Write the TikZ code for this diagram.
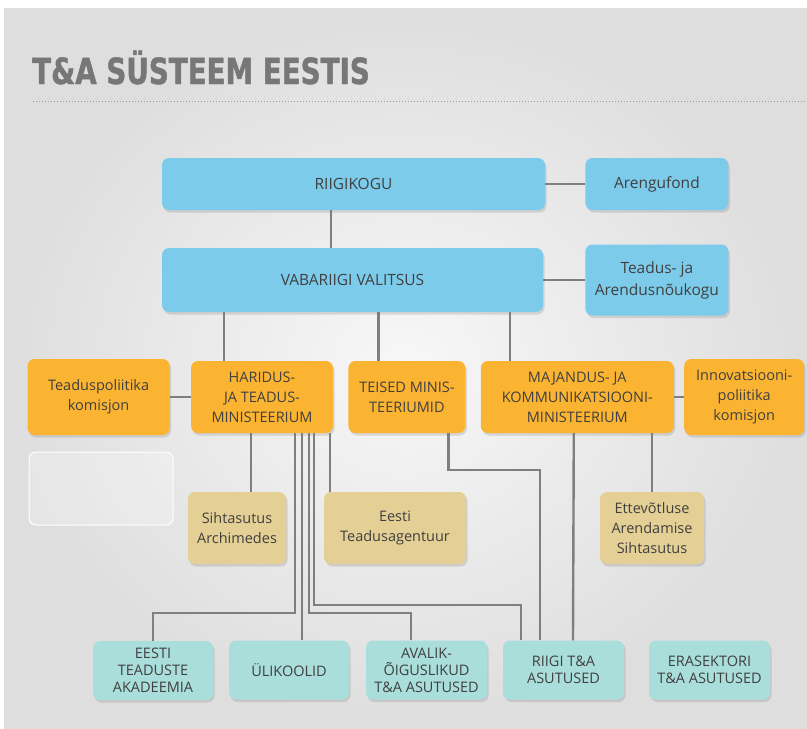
\documentclass[tikz,border=0pt]{standalone}
\usepackage{fontspec}
\setmainfont{Open Sans}
\newfontfamily\titlefont[FakeStretch=0.77, BoldFeatures={FakeBold=1.2}]{DejaVu Sans}
\usetikzlibrary{positioning, shadows}

\definecolor{boxblue}{HTML}{7DCBEB}
\definecolor{boxorange}{HTML}{FBB431}
\definecolor{boxtan}{HTML}{E4CF95}
\definecolor{boxteal}{HTML}{A9DEDA}
\definecolor{linegray}{HTML}{7F7F7F}
\definecolor{textgray}{HTML}{404040}
\definecolor{titlegray}{HTML}{777777}

\begin{document}
\begin{tikzpicture}[x=1pt, y=-1pt,
        box/.style={rounded corners=7pt, align=center, inner sep=1pt, text=textgray,
            font=\fontsize{14.5}{20}\selectfont,
            drop shadow={shadow xshift=1.5pt, shadow yshift=-2.5pt, opacity=0.25}},
        govbox/.style={box, fill=boxblue, minimum height=52pt, font=\fontsize{15.5}{22}\selectfont},
        minbox/.style={box, fill=boxorange, minimum width=142pt, minimum height=72pt},
        fundbox/.style={box, fill=boxtan, minimum height=72pt, font=\fontsize{14.5}{20}\selectfont},
        instbox/.style={box, fill=boxteal, minimum width=121pt, minimum height=59pt, font=\fontsize{14.5}{17}\selectfont},
        link/.style={-, line width=2.4pt, draw=linegray}
    ]
        \useasboundingbox (0,0) rectangle (807,729);
        \shade[inner color=black!3, outer color=black!13] (4,8) rectangle (807,728);

        % Title
        \node[anchor=base west, inner sep=0pt, text=titlegray,
            font=\titlefont\bfseries\fontsize{36}{36}\selectfont] (title) at (32,84) {T\&A SÜSTEEM EESTIS};
        \draw[dotted, draw=linegray!80, line width=1pt] (33,101) -- (807,101);

        % Parliament and government
        \node[govbox, minimum width=383pt] (riigikogu) at (353.5,184) {RIIGIKOGU};
        \node[govbox, minimum width=143pt, right=40pt of riigikogu] (arengufond) {Arengufond};
        \node[govbox, minimum width=381pt, minimum height=64pt] (valitsus) at (352.5,280) {VABARIIGI VALITSUS};
        \node[govbox, minimum width=143pt, minimum height=71pt, right=42pt of valitsus] (noukogu) {Teadus- ja\\Arendusnõukogu};

        \draw[link] (riigikogu) -- (arengufond);
        \draw[link] ([xshift=-22.5pt]riigikogu.south) -- ([xshift=-22.5pt]riigikogu.south |- valitsus.north);
        \draw[link] (valitsus.east) -- (valitsus.east -| noukogu.west);

        % Ministries
        \node[minbox] (htm) at (262,397) {HARIDUS-\\JA TEADUS-\\MINISTEERIUM};
        \node[minbox, minimum height=76pt, left=21pt of htm] (tpk) {Teaduspoliitika\\komisjon};
        \node[minbox, minimum width=117pt, right=15pt of htm] (teised) {TEISED MINIS-\\TEERIUMID};
        \node[minbox, minimum width=193pt, right=15pt of teised] (mkm) {MAJANDUS- JA\\KOMMUNIKATSIOONI-\\MINISTEERIUM};
        \node[minbox, minimum width=120pt, minimum height=76pt, right=10pt of mkm] (ipk) {Innovatsiooni-\\poliitika\\komisjon};

        \draw[link] ([xshift=-38pt]htm.north) -- ([xshift=-38pt]htm.north |- valitsus.south);
        \draw[link] ([xshift=-28.5pt]teised.north) -- ([xshift=-28.5pt]teised.north |- valitsus.south);
        \draw[link] ([xshift=-67.5pt]mkm.north) -- ([xshift=-67.5pt]mkm.north |- valitsus.south);
        \draw[link] (tpk.east) -- (tpk.east -| htm.west);
        \draw[link] (mkm.east) -- (mkm.east -| ipk.west);

        % Foundations and agency
        \node[rounded corners=7pt, draw=white, line width=1pt, fill=white, fill opacity=0.25,
            minimum width=144pt, minimum height=73pt] (blank) at (101,488.5) {};
        \node[fundbox, minimum width=98pt] (archimedes) at (237,528) {Sihtasutus\\Archimedes};
        \node[fundbox, minimum width=142pt] (etag) at (395,528) {Eesti\\Teadusagentuur};
        \node[fundbox, minimum width=104pt] (eas) at (652,528) {Ettevõtluse\\Arendamise\\Sihtasutus};

        \draw[link] ([xshift=-11pt]htm.south) -- ([xshift=-11pt]htm.south |- archimedes.north);
        \draw[link] ([xshift=68pt]htm.south) -- ([xshift=68pt]htm.south |- etag.north);
        \draw[link] (eas.north) -- (eas.north |- mkm.south);

        % R&D institutions
        \node[instbox, minimum width=120pt] (eaa) at (153,670.5) {EESTI\\TEADUSTE\\AKADEEMIA};
        \node[instbox, minimum width=120pt] (ylikoolid) at (289,670) {ÜLIKOOLID};
        \node[instbox] (avalik) at (426.5,670) {AVALIK-\\ÕIGUSLIKUD\\T\&A ASUTUSED};
        \node[instbox] (riigi) at (563.5,670) {RIIGI T\&A\\ASUTUSED};
        \node[instbox] (erasektor) at (709.5,670) {ERASEKTORI\\T\&A ASUTUSED};

        \draw[link] ([xshift=33pt]htm.south) -- ++(0,180) -| (eaa.north);
        \draw[link] ([xshift=40pt]htm.south) -- ([xshift=13pt]ylikoolid.north);
        \draw[link] ([xshift=47pt]htm.south) -- ++(0,180) -| ([xshift=-15.5pt]avalik.north);
        \draw[link] ([xshift=52pt]htm.south) -- ++(0,172) -| ([xshift=-42.5pt]riigi.north);
        \draw[link] ([xshift=41.5pt]teised.south) -- ++(0,37) -| ([xshift=-23.5pt]riigi.north);
        \draw[link] ([xshift=-3.5pt]mkm.south) -- ([xshift=9.5pt]riigi.north);

    \end{tikzpicture}
\end{document}
